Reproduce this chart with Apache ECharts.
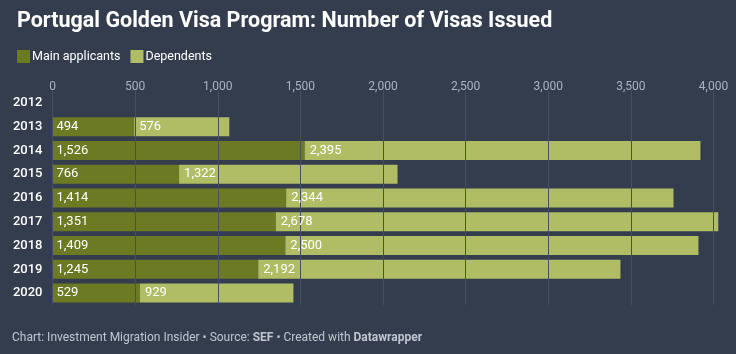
<!DOCTYPE html>
<html>
<head>
<meta charset="utf-8">
<script src="https://cdn.jsdelivr.net/npm/echarts@6/dist/echarts.min.js"></script>
<style>
  html, body { margin: 0; padding: 0; background: #333d4e; }
  #main { width: 736px; height: 354px; }
</style>
</head>
<body>
<div id="main"></div>
<script>
// data
var years = ['2012', '2013', '2014', '2015', '2016', '2017', '2018', '2019', '2020'];
var mainApplicants = [2, 494, 1526, 766, 1414, 1351, 1409, 1245, 529];
var dependents = [0, 576, 2395, 1322, 2344, 2678, 2500, 2192, 929];
var xTicks = [0, 500, 1000, 1500, 2000, 2500, 3000, 3500, 4000];

var mainColor = '#6d7a24';
var depColor = '#b0bd65';
var font = 'Roboto, "Noto Sans", sans-serif';

function fmt(v) {
  return v.toLocaleString('en-US');
}

var myChart = echarts.init(document.getElementById('main'));

// 标签单独放在透明柱上，这样网格线可以压在柱子上面、标签又在网格线上面
function labelSeries(name, data, offsetX) {
  return {
    name: name + '_label',
    type: 'bar',
    stack: 'labels',
    barCategoryGap: '20%',
    barGap: '-100%',
    z: 5,
    clip: false,
    silent: true,
    itemStyle: { color: 'rgba(0,0,0,0)' },
    label: {
      show: true,
      position: 'insideLeft',
      offset: [offsetX, 0],
      color: '#ffffff',
      fontFamily: font,
      fontSize: 13,
      formatter: function (p) {
        return p.dataIndex === 0 ? '' : fmt(p.value);
      },
    },
    data: data,
  };
}

myChart.setOption({
  backgroundColor: '#333d4e',
  animation: false,
  title: {
    text: 'Portugal Golden Visa Program: Number of Visas Issued',
    left: 12,
    top: 6,
    textStyle: { color: '#ffffff', fontFamily: font, fontSize: 21.5, fontWeight: 'bold' },
  },
  legend: {
    data: ['Main applicants', 'Dependents'],
    left: 12,
    top: 45,
    icon: 'rect',
    itemWidth: 13,
    itemHeight: 13,
    itemGap: 10,
    selectedMode: false,
    textStyle: { color: '#ffffff', fontFamily: font, fontSize: 12.5, padding: [0, 0, 0, -3] },
  },
  graphic: [
    {
      type: 'text',
      left: 12,
      top: 332,
      style: {
        text: '{a|Chart: Investment Migration Insider • Source: }{b|SEF}{a| • Created with }{b|Datawrapper}',
        rich: {
          a: { fill: '#bfc6d1', fontFamily: font, fontSize: 12 },
          b: { fill: '#bfc6d1', fontFamily: font, fontSize: 12, fontWeight: 'bold' },
        },
      },
    },
  ],
  grid: { left: 52.5, top: 91, width: 661, height: 214 },
  xAxis: {
    type: 'value',
    position: 'top',
    min: 0,
    max: 4000,
    interval: 500,
    z: 3,
    axisLine: { show: false },
    axisTick: { show: false },
    axisLabel: {
      color: '#a9b3c2',
      fontFamily: font,
      fontSize: 12,
      margin: -2,
      formatter: function (v) {
        return xTicks.indexOf(v) >= 0 ? fmt(v) : '';
      },
    },
    splitLine: { lineStyle: { color: '#465062', width: 1 } },
  },
  yAxis: {
    type: 'category',
    data: years,
    inverse: true,
    axisLine: { show: false },
    axisTick: { show: false },
    axisLabel: {
      color: '#ffffff',
      fontFamily: font,
      fontSize: 13,
      fontWeight: 500,
      margin: 10,
    },
  },
  series: [
    {
      name: 'Main applicants',
      type: 'bar',
      stack: 'total',
      barCategoryGap: '20%',
      clip: false,
      itemStyle: { color: mainColor },
      data: mainApplicants,
    },
    {
      name: 'Dependents',
      type: 'bar',
      stack: 'total',
      barCategoryGap: '20%',
      clip: false,
      itemStyle: { color: depColor },
      data: dependents,
    },
    labelSeries('Main applicants', mainApplicants, -1),
    labelSeries('Dependents', dependents, 0),
  ],
});
</script>
</body>
</html>
